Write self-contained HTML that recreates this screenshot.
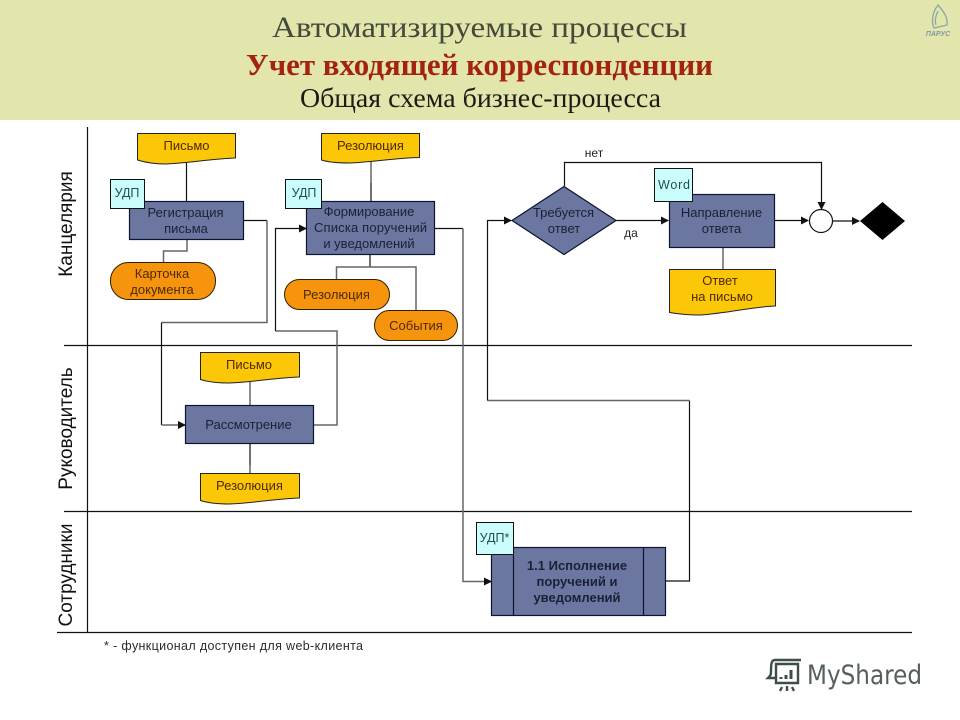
<!DOCTYPE html>
<html lang="ru"><head><meta charset="utf-8"><title>Учет входящей корреспонденции</title>
<style>
html,body{margin:0;padding:0;background:#fff;width:960px;height:720px;overflow:hidden}
svg{display:block}
text{font-family:"Liberation Sans","DejaVu Sans",sans-serif}
.t{font-family:"Liberation Serif","DejaVu Serif",serif}
.b{font-size:13px;fill:#1b2036;text-anchor:middle}
.y{font-size:13px;fill:#4d2a08;text-anchor:middle}
.k{font-size:12px;fill:#222;text-anchor:middle}
.c{font-size:12.500px;fill:#1f4f55;text-anchor:middle}
.s{font-size:19px;fill:#111;text-anchor:middle}
.l{fill:none;stroke:#111;stroke-width:1.2}
.g{fill:none;stroke:#666;stroke-width:1.5}
.box{fill:#6b77a0;stroke:#0c1430;stroke-width:1.2}
.doc{fill:#fcc707;stroke:#222;stroke-width:1}
.pill{fill:#f7940e;stroke:#302000;stroke-width:1}
.cy{fill:#ccfdfd;stroke:#111;stroke-width:1}
</style></head><body>
<svg width="960" height="720" viewBox="0 0 960 720" xmlns="http://www.w3.org/2000/svg">
<defs><marker id="a" markerWidth="8" markerHeight="8" refX="7" refY="4" orient="auto" markerUnits="userSpaceOnUse"><path d="M0,0 L8,4 L0,8 Z" fill="#111"/></marker></defs>
<rect width="960" height="720" fill="#fff"/>
<rect width="960" height="120" fill="#e2e6ac"/>
<text class="t" x="272" y="37" font-size="30" fill="#45493a" textLength="415" lengthAdjust="spacingAndGlyphs">Автоматизируемые процессы</text>
<text class="t" x="246" y="75" font-size="31" font-weight="bold" fill="#a3230e" textLength="467" lengthAdjust="spacingAndGlyphs">Учет входящей корреспонденции</text>
<text class="t" x="300" y="107" font-size="27" fill="#1c1c14" textLength="361" lengthAdjust="spacingAndGlyphs">Общая схема бизнес-процесса</text>
<path d="M938,5 C931,14 932,24 934,28 L947,25 C948,16 942,10 938,5 Z M938,11 C935,17 935,22 936,25" fill="none" stroke="#8aa6a8" stroke-width="1.3"/>
<text x="938" y="36" font-size="7" font-weight="bold" font-style="italic" fill="#7f9aa5" text-anchor="middle">ПАРУС</text>

<path class="l" d="M87.5,127V633M64,345.5H912M64,511.5H912M57,632.5H912"/>
<text class="s" transform="translate(72,224) rotate(-90)">Канцелярия</text>
<text class="s" transform="translate(72,428.500) rotate(-90)">Руководитель</text>
<text class="s" transform="translate(72,575) rotate(-90)">Сотрудники</text>

<!-- connectors -->
<path class="l" d="M186.500,163V201"/>
<path class="g" d="M187,239V251H163.500V262" stroke-width="1.400"/>
<path class="l" d="M243.500,220.500H267"/><path class="g" d="M267,220.500V322.500H161.500"/>
<path class="l" d="M161.500,322.500V425"/><path class="g" d="M161.500,425H185" marker-end="url(#a)"/>
<path class="g" d="M371,160V183"/><path class="l" d="M371,183V201"/>
<path class="g" d="M250,380V405"/><path class="l" d="M250,443V465"/><path class="g" d="M250,465V473"/>
<path class="g" d="M313.500,425H337V331H275.500"/>
<path class="l" d="M275.500,331V228.500H306" marker-end="url(#a)"/>
<path class="l" d="M370,254V267"/><path class="g" d="M336.500,279V267H416V310"/>
<path class="l" d="M434.500,228.500H463"/><path class="g" d="M463,228.500V581.500H491"/>
<path class="l" d="M484,581.500H491" marker-end="url(#a)"/>
<path class="l" d="M665.500,581H689.500V400.500"/><path class="g" d="M689.500,400.500H487.500" stroke="#444" stroke-width="1.300"/>
<path class="l" d="M487.500,400.500V220.500H511" marker-end="url(#a)"/>
<path class="l" d="M564.500,186V162.500H821.500V209" marker-end="url(#a)"/>
<path class="l" d="M616,220.500H668" marker-end="url(#a)"/>
<path class="g" d="M723,247V269"/>
<path class="l" d="M774.500,220.500H808" marker-end="url(#a)"/>
<path class="l" d="M833,221H859" marker-end="url(#a)"/>

<!-- documents -->
<path class="doc" d="M137.500,133.500H235.500V158C210,159 190,163 165,164 152,164 144,162 137.500,160Z"/>
<text class="y" x="186.500" y="150">Письмо</text>
<path class="doc" d="M321.500,133.500H419.500V157.500C394,158 374,162 349,163 336,163 328,162 321.500,160Z"/>
<text class="y" x="370.500" y="150">Резолюция</text>
<path class="doc" d="M200.500,352.500H299.500V377C274,378 254,382 229,383 216,383 208,382 200.500,379.500Z"/>
<text class="y" x="249" y="369">Письмо</text>
<path class="doc" d="M200.500,473.500H299.500V498C274,499 254,503 229,504 216,504 208,503 200.500,500.500Z"/>
<text class="y" x="249.500" y="490">Резолюция</text>
<path class="doc" d="M669.500,269.500H775.500V306C750,307 730,313 700,315 688,315 678,314 669.500,312.500Z"/>
<text class="y" x="720" y="285">Ответ</text><text class="y" x="722" y="301">на письмо</text>

<!-- process boxes -->
<rect class="box" x="129.500" y="201.500" width="114" height="38"/>
<text class="b" x="185.500" y="217">Регистрация</text><text class="b" x="186" y="233">письма</text>
<rect class="box" x="306.500" y="201.500" width="128" height="53"/>
<text class="b" x="369" y="216">Формирование</text><text class="b" x="370.500" y="232" textLength="113" lengthAdjust="spacing">Списка поручений</text><text class="b" x="369" y="248">и уведомлений</text>
<rect class="box" x="185.500" y="405.500" width="128" height="38"/>
<text class="b" x="248.500" y="429">Рассмотрение</text>
<rect class="box" x="669.500" y="194.500" width="105" height="53"/>
<text class="b" x="721.500" y="217">Направление</text><text class="b" x="721.500" y="233">ответа</text>
<path class="box" d="M512,220.500L564,186.500L616,220.500L564,254.500Z"/>
<text class="b" x="563.500" y="217">Требуется</text><text class="b" x="564" y="233">ответ</text>
<rect class="box" x="491.500" y="547.500" width="174" height="68"/>
<path d="M513.500,547.500V615.500M643.500,547.500V615.500" stroke="#0c1430" stroke-width="1.200"/>
<text class="b" x="577" y="570" font-weight="bold">1.1 Исполнение</text><text class="b" x="577" y="586" font-weight="bold">поручений и</text><text class="b" x="577" y="602" font-weight="bold">уведомлений</text>

<!-- pills -->
<rect class="pill" x="110.500" y="262.500" width="105" height="37" rx="18" ry="18"/>
<text class="y" x="162" y="278">Карточка</text><text class="y" x="162" y="294">документа</text>
<rect class="pill" x="284.500" y="279.500" width="105" height="30" rx="15" ry="15"/>
<text class="y" x="336.500" y="299">Резолюция</text>
<rect class="pill" x="374.500" y="310.500" width="83" height="30" rx="15" ry="15"/>
<text class="y" x="416" y="330">События</text>

<!-- notes -->
<rect class="cy" x="110.500" y="179.500" width="34" height="29"/><text class="c" x="127" y="197">УДП</text>
<rect class="cy" x="285.500" y="179.500" width="36" height="29"/><text class="c" x="304" y="197">УДП</text>
<rect class="cy" x="654.500" y="168.500" width="38" height="33"/><text class="c" x="674" y="189" textLength="32" lengthAdjust="spacing">Word</text>
<rect class="cy" x="476.500" y="522.500" width="37" height="32"/><text class="c" x="494.500" y="542">УДП*</text>

<circle cx="821" cy="221" r="11.500" fill="#fff" stroke="#111" stroke-width="1.200"/>
<path d="M860,221L882.500,202L905,221L882.500,240Z" fill="#000"/>

<text x="594" y="157" font-size="12" fill="#222" text-anchor="middle">нет</text>
<text x="631" y="237" font-size="12" fill="#222" text-anchor="middle">да</text>
<text x="104" y="650" font-size="12.500" fill="#2b2b2b" textLength="259" lengthAdjust="spacing">* - функционал доступен для web-клиента</text>

<!-- watermark -->
<g fill="none" stroke="#3f4d49" stroke-width="2.400">
<path d="M775,660H801M775,660C771,660 771,665 771,672 771,676 769,677 768,678H776M776,664H798V683H776Z"/>
<path d="M782,687L780,691M787,686V691M792,687L794,691"/>
<path d="M781,679V677M786,679V675M791,679V670" stroke-width="3"/>
</g>
<text x="807" y="684" font-size="27" fill="#55605d" style='font-family:"DejaVu Sans",sans-serif' textLength="115" lengthAdjust="spacingAndGlyphs">MyShared</text>
</svg>
</body></html>
